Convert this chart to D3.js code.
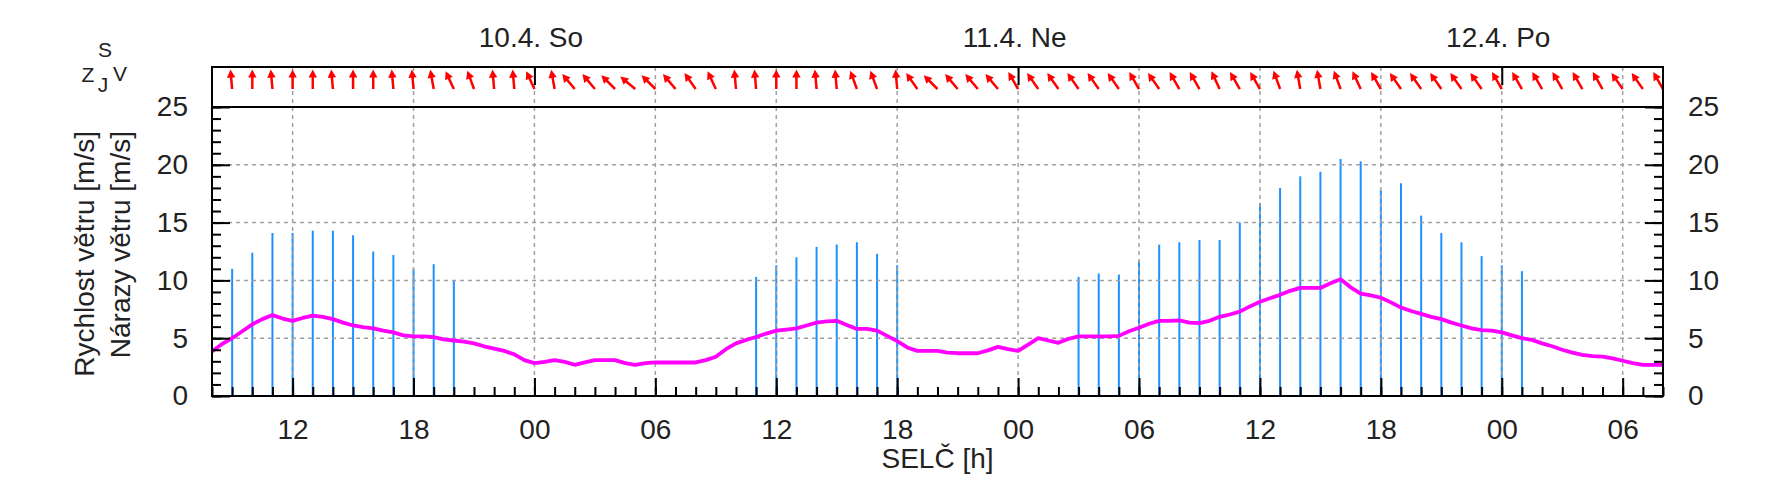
<!DOCTYPE html>
<html><head><meta charset="utf-8">
<script src="https://cdn.jsdelivr.net/npm/d3@7"></script>
<style>
body{margin:0;background:#fff}
svg{display:block}
text{font-family:"Liberation Sans",Arial,sans-serif;fill:#222}
</style>
</head><body>
<svg id="c" width="1770" height="490"></svg>
<script>
// ---------- data ----------
const startTime = "2021-04-10T08:00:00Z";
const endTime   = "2021-04-13T08:00:00Z";
const dayLabels = ["10.4. So", "11.4. Ne", "12.4. Po"];
const yTickValues = [0, 5, 10, 15, 20, 25];
const xLabel = "SELČ [h]";
const yLabel1 = "Rychlost větru [m/s]";
const yLabel2 = "Nárazy větru [m/s]";
const compass = ["S", "Z", "V", "J"];

// wind speed every 30 min from 10.4. 08:00
const windSpeed = [
  3.84,4.5,5.0,5.6,6.2,6.65,7.0,6.7,6.5,6.75,6.95,6.85,6.65,6.35,6.1,5.95,5.85,5.65,5.5,5.25,5.15,5.15,5.1,4.9,
  4.8,4.7,4.55,4.3,4.1,3.9,3.6,3.1,2.85,2.95,3.1,2.95,2.7,2.9,3.1,3.1,3.1,2.85,2.7,2.85,2.9,2.9,2.9,2.9,
  2.9,3.1,3.4,4.05,4.55,4.85,5.1,5.4,5.65,5.75,5.85,6.1,6.35,6.45,6.5,6.15,5.8,5.8,5.65,5.2,4.75,4.2,3.9,3.9,
  3.9,3.75,3.7,3.7,3.7,3.95,4.25,4.05,3.9,4.45,5.0,4.8,4.6,4.95,5.15,5.15,5.15,5.15,5.2,5.6,5.9,6.25,6.5,6.5,
  6.55,6.35,6.3,6.5,6.85,7.05,7.3,7.75,8.15,8.45,8.75,9.1,9.35,9.35,9.35,9.75,10.1,9.4,8.85,8.7,8.5,8.1,7.65,7.35,
  7.1,6.85,6.65,6.35,6.1,5.85,5.7,5.65,5.5,5.25,5.0,4.85,4.55,4.3,4.0,3.75,3.55,3.45,3.4,3.25,3.05,2.85,2.7,2.7,2.7
];
// gusts every hour from 10.4. 08:00 (null = none)
const gusts = [
  null,11.0,12.4,14.1,14.1,14.3,14.3,13.9,12.5,12.2,11.0,11.4,10.0,
  null,null,null,null,null,null,null,null,null,null,null,null,null,null,
  10.3,11.3,12.0,12.9,13.1,13.3,12.3,11.3,
  null,null,null,null,null,null,null,null,
  10.3,10.6,10.5,11.7,13.1,13.3,13.5,13.5,15.0,16.7,18.0,19.0,19.4,20.5,20.3,17.8,18.4,15.6,14.1,13.3,12.1,11.3,10.8,
  null,null,null,null,null,null,null
];
// wind direction (deg, from) every hour from 10.4. 09:00
const windDir = [
  175,180,175,180,180,175,180,180,175,175,170,155,160,175,175,155,170,140,140,135,130,135,140,145,
  155,175,175,180,180,175,175,160,160,175,145,135,140,140,140,150,145,145,145,145,145,150,145,150,
  150,155,150,150,160,170,170,160,155,150,145,145,145,145,145,150,150,150,150,150,150,145,145,150
];

// ---------- layout ----------
const L = 212, R = 1663, TOP = 67, SEP = 107, BOT = 396;
const FS = 28;
const FONT = "Liberation Sans, Arial, sans-serif";
const t0 = new Date(startTime);
const x = d3.scaleUtc().domain([t0, new Date(endTime)]).range([L, R]);
const y = d3.scaleLinear().domain([0, 25]).range([BOT, SEP]);
const svg = d3.select("#c");

// bars (gusts)
const gustData = gusts.map((v, i) => ({t: d3.utcHour.offset(t0, i), v})).filter(d => d.v != null);
svg.append("g").selectAll("line").data(gustData).join("line")
  .attr("x1", d => x(d.t)).attr("x2", d => x(d.t))
  .attr("y1", y(0)).attr("y2", d => y(d.v))
  .attr("stroke", "#1e90ff").attr("stroke-width", 2);

// grid
const grid = svg.append("g").attr("stroke", "#a0a0a0").attr("stroke-width", 1.5).attr("stroke-dasharray", "4,4");
grid.selectAll(".v").data(x.ticks(d3.utcHour.every(6))).join("line")
  .attr("x1", d => x(d)).attr("x2", d => x(d)).attr("y1", TOP).attr("y2", BOT);
grid.selectAll(".h").data(yTickValues.filter(v => v > 0 && v < 25)).join("line")
  .attr("x1", L).attr("x2", R).attr("y1", d => y(d)).attr("y2", d => y(d));

// wind speed line
const speedData = windSpeed.map((v, i) => ({t: d3.utcMinute.offset(t0, 30 * i), v}));
svg.append("path").datum(speedData)
  .attr("fill", "none").attr("stroke", "#ff00ff").attr("stroke-width", 3.8)
  .attr("stroke-linejoin", "round")
  .attr("d", d3.line().x(d => x(d.t)).y(d => y(d.v)));

// arrows
const AL = 19.5;
const arrows = svg.append("g");
windDir.forEach((d, i) => {
  const t = d3.utcHour.offset(t0, i + 1);
  const g = arrows.append("g").attr("transform", `translate(${x(t)},89) rotate(${d - 180})`);
  g.append("line").attr("x1", 0).attr("y1", 0).attr("x2", 0).attr("y2", -AL + 5)
    .attr("stroke", "#ff0000").attr("stroke-width", 2.5);
  g.append("path").attr("d", `M0,${-AL} L-4.2,${-AL + 8} L4.2,${-AL + 8} Z`).attr("fill", "#ff0000");
});

// axes
function styleAxis(g) {
  g.select(".domain").remove();
  g.selectAll(".tick line").attr("stroke", "#000").attr("stroke-width", 2);
  g.selectAll("text").attr("font-family", FONT).attr("font-size", FS).attr("fill", "#222");
  g.attr("font-size", FS).attr("font-family", FONT);
}
svg.append("g").attr("transform", `translate(0,${BOT})`)
  .call(d3.axisBottom(x).ticks(d3.utcHour.every(1)).tickFormat("").tickSizeInner(-9).tickSizeOuter(0)).call(styleAxis);
svg.append("g").attr("transform", `translate(0,${BOT})`)
  .call(d3.axisBottom(x).ticks(d3.utcHour.every(6)).tickFormat(d3.utcFormat("%H")).tickSizeInner(-18).tickSizeOuter(0).tickPadding(23.5)).call(styleAxis);
svg.append("g").attr("transform", `translate(${L},0)`)
  .call(d3.axisLeft(y).ticks(25).tickFormat("").tickSizeInner(-9).tickSizeOuter(0)).call(styleAxis);
svg.append("g").attr("transform", `translate(${L},0)`)
  .call(d3.axisLeft(y).tickValues(yTickValues).tickSizeInner(-18).tickSizeOuter(0).tickPadding(24)).call(styleAxis);
svg.append("g").attr("transform", `translate(${R},0)`)
  .call(d3.axisRight(y).ticks(25).tickFormat("").tickSizeInner(-9).tickSizeOuter(0)).call(styleAxis);
svg.append("g").attr("transform", `translate(${R},0)`)
  .call(d3.axisRight(y).tickValues(yTickValues).tickSizeInner(-18).tickSizeOuter(0).tickPadding(25)).call(styleAxis);
// top axis: midnight ticks + day labels
const midnights = x.ticks(d3.utcDay.every(1));
const topAx = svg.append("g").attr("transform", `translate(0,${TOP})`)
  .call(d3.axisTop(x).tickValues(midnights).tickFormat((d, i) => dayLabels[i]).tickSizeInner(-18).tickSizeOuter(0).tickPadding(20))
  .call(styleAxis);
topAx.selectAll("text").attr("dx", -4);

// borders
svg.append("rect").attr("x", L).attr("y", TOP).attr("width", R - L).attr("height", BOT - TOP)
  .attr("fill", "none").attr("stroke", "#000").attr("stroke-width", 2);
svg.append("line").attr("x1", L).attr("x2", R).attr("y1", y(25)).attr("y2", y(25))
  .attr("stroke", "#000").attr("stroke-width", 2);

// labels
svg.append("text").attr("x", (L + R) / 2).attr("y", 468).attr("text-anchor", "middle")
  .attr("font-size", FS).text(xLabel);
svg.append("text").attr("transform", "translate(94,131) rotate(-90)").attr("text-anchor", "end")
  .attr("font-size", FS).text(yLabel1);
svg.append("text").attr("transform", "translate(130,131) rotate(-90)").attr("text-anchor", "end")
  .attr("font-size", FS).text(yLabel2);

// compass legend
const cpos = [[105, 57], [88, 82], [120, 81], [103, 92]];
svg.append("g").selectAll("text").data(compass).join("text")
  .attr("x", (d, i) => cpos[i][0]).attr("y", (d, i) => cpos[i][1])
  .attr("text-anchor", "middle").attr("font-size", 21).text(d => d);
</script>
</body></html>
